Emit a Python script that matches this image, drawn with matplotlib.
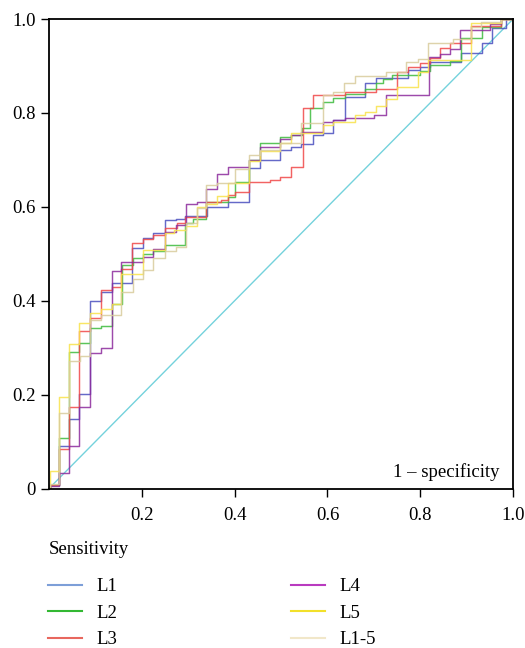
import matplotlib
matplotlib.use('Agg')
import matplotlib.pyplot as plt
from matplotlib.lines import Line2D

labels = ['L1', 'L2', 'L3', 'L4', 'L5', 'L1-5']

# ROC vertices: x where the curve rises, level after the rise
l1_fpr = [0, 0.003, 0.021, 0.044, 0.065, 0.089, 0.113, 0.135, 0.179, 0.203, 0.225, 0.25, 0.273, 0.293,
          0.34, 0.386, 0.43, 0.454, 0.497, 0.522, 0.544, 0.569, 0.59, 0.612, 0.637, 0.68, 0.705, 0.774,
          0.799, 0.82, 0.888, 0.932, 0.955, 0.985, 1.0]
l1_tpr = [0, 0.007, 0.09, 0.149, 0.202, 0.399, 0.419, 0.437, 0.512, 0.533, 0.545, 0.572, 0.575, 0.58,
          0.599, 0.611, 0.682, 0.70, 0.721, 0.728, 0.734, 0.753, 0.758, 0.785, 0.833, 0.863, 0.874, 0.891,
          0.898, 0.909, 0.927, 0.95, 0.98, 1.0, 1.0]

l2_fpr = [0, 0.003, 0.021, 0.044, 0.065, 0.089, 0.112, 0.135, 0.158, 0.18, 0.203, 0.225, 0.25, 0.293,
          0.31, 0.339, 0.386, 0.40, 0.43, 0.454, 0.497, 0.522, 0.545, 0.562, 0.59, 0.612, 0.637, 0.68,
          0.705, 0.72, 0.74, 0.80, 0.82, 0.863, 0.888, 0.932, 0.975, 1.0]
l2_tpr = [0, 0.007, 0.108, 0.291, 0.311, 0.341, 0.347, 0.394, 0.476, 0.49, 0.50, 0.506, 0.519, 0.565,
          0.575, 0.611, 0.62, 0.653, 0.70, 0.735, 0.749, 0.752, 0.767, 0.81, 0.824, 0.832, 0.84, 0.85,
          0.863, 0.872, 0.881, 0.89, 0.902, 0.91, 0.96, 0.983, 1.0, 1.0]

l3_fpr = [0, 0.003, 0.021, 0.044, 0.065, 0.089, 0.112, 0.135, 0.156, 0.179, 0.203, 0.225, 0.25, 0.275,
          0.293, 0.339, 0.37, 0.386, 0.40, 0.43, 0.476, 0.497, 0.522, 0.547, 0.569, 0.637, 0.705, 0.75,
          0.774, 0.799, 0.82, 0.842, 0.863, 0.91, 0.975, 1.0]
l3_tpr = [0, 0.007, 0.084, 0.173, 0.335, 0.364, 0.423, 0.43, 0.468, 0.522, 0.531, 0.54, 0.555, 0.565,
          0.579, 0.61, 0.615, 0.625, 0.632, 0.653, 0.658, 0.663, 0.685, 0.81, 0.838, 0.845, 0.85, 0.888,
          0.898, 0.906, 0.916, 0.939, 0.95, 0.985, 1.0, 1.0]

l4_fpr = [0, 0.003, 0.021, 0.044, 0.065, 0.089, 0.112, 0.135, 0.156, 0.203, 0.225, 0.25, 0.273, 0.296,
          0.318, 0.339, 0.361, 0.386, 0.43, 0.454, 0.497, 0.522, 0.544, 0.59, 0.612, 0.637, 0.70, 0.727,
          0.819, 0.842, 0.863, 0.885, 0.95, 0.975, 1.0]
l4_tpr = [0, 0.005, 0.034, 0.09, 0.173, 0.289, 0.30, 0.464, 0.482, 0.494, 0.51, 0.547, 0.561, 0.607,
          0.61, 0.639, 0.671, 0.685, 0.70, 0.728, 0.745, 0.753, 0.76, 0.781, 0.785, 0.79, 0.795, 0.838,
          0.92, 0.925, 0.937, 0.976, 0.99, 1.0, 1.0]

l5_fpr = [0, 0.002, 0.022, 0.044, 0.065, 0.089, 0.112, 0.135, 0.156, 0.203, 0.25, 0.27, 0.296, 0.318,
          0.339, 0.361, 0.386, 0.43, 0.454, 0.497, 0.522, 0.59, 0.612, 0.659, 0.68, 0.705, 0.727, 0.749,
          0.795, 0.817, 0.91, 0.975, 1.0]
l5_tpr = [0, 0.037, 0.196, 0.308, 0.353, 0.374, 0.382, 0.394, 0.458, 0.508, 0.544, 0.55, 0.56, 0.60,
          0.607, 0.624, 0.651, 0.698, 0.72, 0.735, 0.757, 0.774, 0.781, 0.796, 0.803, 0.815, 0.829, 0.856,
          0.888, 0.912, 0.991, 1.0, 1.0]

l15_fpr = [0, 0.003, 0.022, 0.044, 0.067, 0.089, 0.113, 0.156, 0.18, 0.203, 0.225, 0.25, 0.273, 0.296,
           0.318, 0.339, 0.361, 0.40, 0.43, 0.454, 0.497, 0.544, 0.59, 0.612, 0.636, 0.659, 0.727, 0.77,
           0.795, 0.817, 0.87, 0.91, 0.93, 0.975, 1.0]
l15_tpr = [0, 0.01, 0.16, 0.272, 0.282, 0.359, 0.37, 0.419, 0.446, 0.465, 0.49, 0.507, 0.515, 0.565,
           0.597, 0.646, 0.65, 0.68, 0.71, 0.721, 0.735, 0.778, 0.838, 0.845, 0.863, 0.879, 0.888, 0.909,
           0.914, 0.948, 0.957, 0.983, 0.994, 1.0, 1.0]

curves = [(l1_fpr, l1_tpr), (l2_fpr, l2_tpr), (l3_fpr, l3_tpr),
          (l4_fpr, l4_tpr), (l5_fpr, l5_tpr), (l15_fpr, l15_tpr)]
line_colors = ['#4a4fbf', '#3dbb3d', '#f04848', '#8c2a9c', '#f8e24a', '#d9cc9c']
legend_colors = ['#7d9fd8', '#33b833', '#e8675e', '#b93abf', '#f2e02a', '#f1e7c9']

plt.rcParams['font.family'] = ['Liberation Serif', 'DejaVu Serif']

fig = plt.figure(figsize=(5.25, 6.48), dpi=100)
ax = fig.add_axes([0.0933, 0.2461, 0.884, 0.7245])

ax.plot([0, 1], [0, 1], color='#74d2dc', lw=1.0, zorder=1)
for (fpr, tpr), col in zip(curves, line_colors):
    ax.plot(fpr, tpr, drawstyle='steps-post', color=col, lw=1.05, alpha=0.85, zorder=2)

ax.set_xlim(0, 1)
ax.set_ylim(0, 1)
ax.set_xticks([0.2, 0.4, 0.6, 0.8, 1.0])
ax.set_xticklabels(['0.2', '0.4', '0.6', '0.8', '1.0'])
ax.set_yticks([0, 0.2, 0.4, 0.6, 0.8, 1.0])
ax.set_yticklabels(['0', '0.2', '0.4', '0.6', '0.8', '1.0'])
ax.tick_params(direction='out', length=6, width=1, labelsize=13.5, color='black')
ax.tick_params(axis='x', pad=7)
for s in ax.spines.values():
    s.set_linewidth(1.3)
    s.set_color('black')

ax.text(0.97, 0.024, '1 \u2013 specificity', transform=ax.transAxes,
        ha='right', va='baseline', fontsize=13.5)

# legend title drawn separately so it sits higher above the entries
fig.text(49 / 525, 1 - 549 / 648, 'Sensitivity', ha='left', va='center', fontsize=13.5)

handles = [Line2D([], [], color=c, lw=1.5) for c in legend_colors]
leg = fig.legend(handles, labels, loc='upper left', bbox_to_anchor=(0.060, 0.134),
                 ncol=2, frameon=False, fontsize=13.5,
                 handlelength=1.8, handletextpad=0.75, columnspacing=9.3, labelspacing=0.5)

fig.savefig('out.png', dpi=100)
